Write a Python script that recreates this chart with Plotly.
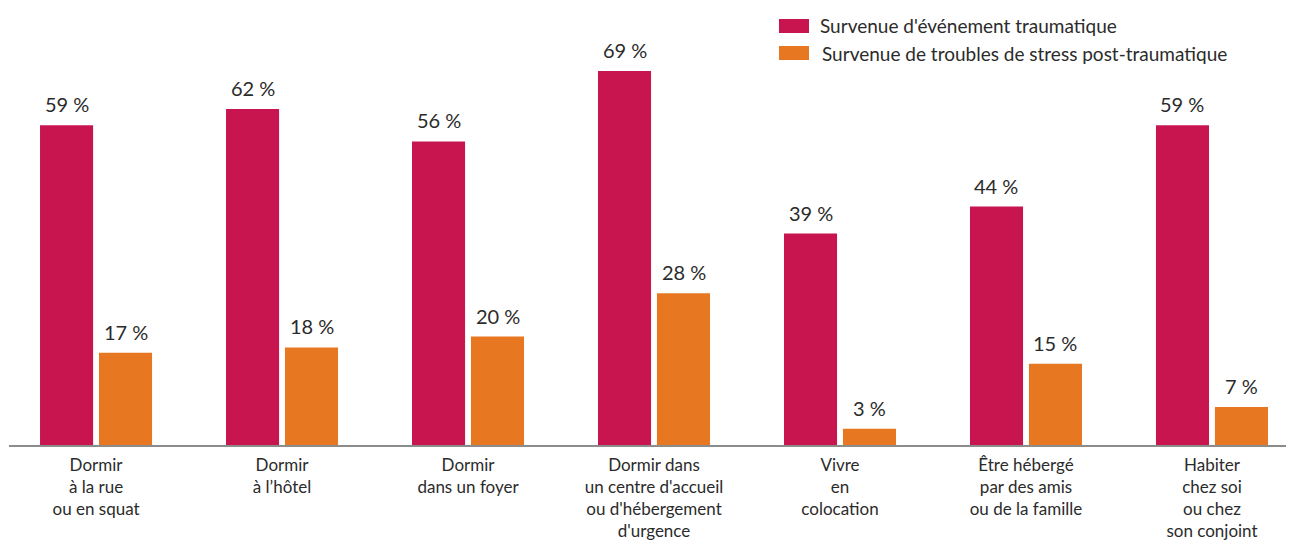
import plotly.graph_objects as go

# Data
categories = [
    "Dormir<br>à la rue<br>ou en squat",
    "Dormir<br>à l’hôtel",
    "Dormir<br>dans un foyer",
    "Dormir dans<br>un centre d'accueil<br>ou d'hébergement<br>d'urgence",
    "Vivre<br>en<br>colocation",
    "Être hébergé<br>par des amis<br>ou de la famille",
    "Habiter<br>chez soi<br>ou chez<br>son conjoint",
]
traumatic_event = [59, 62, 56, 69, 39, 44, 59]
ptsd = [17, 18, 20, 28, 3, 15, 7]
series_names = [
    "Survenue d'événement traumatique",
    "Survenue de troubles de stress post-traumatique",
]

RED = "#c8144f"
ORANGE = "#e87722"
TEXT = "#2b2b2b"
FONT = "Lato"

W, H = 1286, 535
L, T, B = 1, 0, 98
PW, PH = W - L, H - T - B

fig = go.Figure()
for name, vals, color in [
    (series_names[0], traumatic_event, RED),
    (series_names[1], ptsd, ORANGE),
]:
    fig.add_trace(
        go.Bar(
            x=categories,
            y=vals,
            name=name,
            marker=dict(color=color, line=dict(width=0)),
            showlegend=False,
        )
    )

# value labels above each bar
offsets = [-29.5, 29.5]
for vals, dx in zip([traumatic_event, ptsd], offsets):
    for cat, v in zip(categories, vals):
        fig.add_annotation(
            x=cat, y=v, text=f"{v} %", showarrow=False,
            xshift=dx, yshift=7, yanchor="bottom",
            font=dict(family=FONT, size=20, color=TEXT),
        )

# legend drawn as swatches + text
for i, (name, color) in enumerate(zip(series_names, [RED, ORANGE])):
    yc = 18 + i * 27
    fig.add_shape(
        type="rect", xref="paper", yref="paper",
        x0=(771 - L) / PW, x1=(801 - L) / PW,
        y0=1 - (yc + 7) / PH, y1=1 - (yc - 7) / PH,
        fillcolor=color, line=dict(width=0),
    )
    fig.add_annotation(
        xref="paper", yref="paper",
        x=(810 + 2 * i - L) / PW, y=1 - yc / PH,
        xanchor="left", yanchor="middle", showarrow=False,
        text=name, font=dict(family=FONT, size=19, color=TEXT),
    )

fig.update_layout(
    width=W,
    height=H,
    margin=dict(l=L, r=0, t=T, b=B, autoexpand=False),
    paper_bgcolor="white",
    plot_bgcolor="white",
    bargap=0.366,
    bargroupgap=0.10,
    barmode="group",
    font=dict(family=FONT, color=TEXT),
    xaxis=dict(
        type="category",
        range=[-0.468, 6.441],
        automargin=False,
        showline=True,
        linecolor="#8c8c8c",
        linewidth=1.5,
        ticks="",
        ticklabelstandoff=4,
        tickfont=dict(family=FONT, size=17, color=TEXT),
        showgrid=False,
    ),
    yaxis=dict(
        range=[0, PH / 5.42],
        visible=False,
        automargin=False,
        showgrid=False,
        zeroline=False,
    ),
)

fig.write_html("out.html")
